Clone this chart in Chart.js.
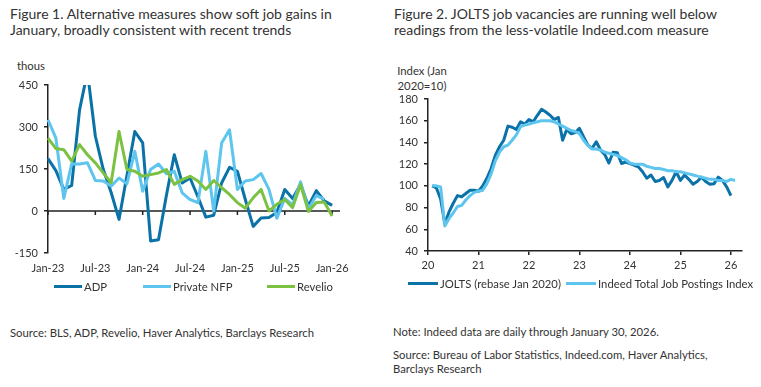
<!DOCTYPE html>
<html>
<head>
<meta charset="utf-8">
<script src="https://cdn.jsdelivr.net/npm/chart.js@4.4.1/dist/chart.umd.min.js"></script>
<style>
  body { margin: 0; width: 761px; height: 387px; background: #fff; font-family: Lato, sans-serif; color: #333; position: relative; overflow: hidden; }
  .txt { position: absolute; white-space: nowrap; font-size: 11.3px; line-height: 13px; }
  .title { position: absolute; white-space: nowrap; font-size: 14px; line-height: 16px; color: #333; }
  .swatch { position: absolute; height: 3px; width: 28px; }
  canvas { position: absolute; }
</style>
</head>
<body>

<div class="title" style="left:10px; top:6px;">Figure 1. Alternative measures show soft job gains in<br>January, broadly consistent with recent trends</div>
<div class="title" style="left:394px; top:6px;">Figure 2. JOLTS job vacancies are running well below<br>readings from the less-volatile Indeed.com measure</div>

<div class="txt" style="left:17px; top:59px;">thous</div>
<div class="txt" style="left:392px; top:63px; width:60px; text-align:center; line-height:15px;">Index (Jan<br>2020=10)</div>

<canvas id="leftChart" width="380" height="300" style="left:0; top:0;"></canvas>
<canvas id="rightChart" width="376" height="300" style="left:385px; top:0;"></canvas>

<!-- legenda kiri -->
<div class="swatch" style="left:54px; top:285px; background:#0B72A8;"></div>
<div class="txt" style="left:84px; top:280px;">ADP</div>
<div class="swatch" style="left:143px; top:285px; background:#5EC5EE;"></div>
<div class="txt" style="left:173px; top:280px;">Private NFP</div>
<div class="swatch" style="left:267px; top:285px; background:#7CC242;"></div>
<div class="txt" style="left:297px; top:280px;">Revelio</div>

<!-- legenda kanan -->
<div class="swatch" style="left:408px; top:282px; width:30px; background:#0B72A8;"></div>
<div class="txt" style="left:440px; top:277px;">JOLTS (rebase Jan 2020)</div>
<div class="swatch" style="left:566px; top:282px; width:30px; background:#5EC5EE;"></div>
<div class="txt" style="left:598px; top:277px;">Indeed Total Job Postings Index</div>

<div class="txt" style="left:10px; top:326px;">Source: BLS, ADP, Revelio, Haver Analytics, Barclays Research</div>
<div class="txt" style="left:393px; top:325px;">Note: Indeed data are daily through January 30, 2026.</div>
<div class="txt" style="left:393px; top:348px; line-height:13.5px;">Source: Bureau of Labor Statistics, Indeed.com, Haver Analytics,<br>Barclays Research</div>

<script>
// Data Figure 1 (ribu, bulanan Jan-23 .. Jan-26)
const monthLabels = ['Jan-23','Feb-23','Mar-23','Apr-23','May-23','Jun-23','Jul-23','Aug-23','Sep-23','Oct-23','Nov-23','Dec-23',
  'Jan-24','Feb-24','Mar-24','Apr-24','May-24','Jun-24','Jul-24','Aug-24','Sep-24','Oct-24','Nov-24','Dec-24',
  'Jan-25','Feb-25','Mar-25','Apr-25','May-25','Jun-25','Jul-25','Aug-25','Sep-25','Oct-25','Nov-25','Dec-25',
  'Jan-26','Feb-26'];
const adp = [187,144,77,91,361,497,267,149,66,-30,127,284,243,-107,-103,55,201,100,118,50,-22,-15,100,156,142,41,-55,-25,-23,-5,77,45,95,18,73,36,20];
const privateNfp = [326,260,45,168,168,172,109,107,89,118,97,213,71,148,168,133,142,65,41,30,213,0,243,290,77,107,112,134,77,-26,45,22,104,7,55,42];
const revelio = [260,223,219,178,237,201,172,136,101,284,148,142,124,130,136,148,95,112,124,107,77,109,83,59,30,10,47,77,0,24,41,12,95,-2,30,32,-18];
const leftTicks = [-150, 0, 150, 300, 450];

// Data Figure 2 (indeks, akhir bulan Jan 2020 ..)
const startYear = 2020;
const joltsValues = [100,98,88,65,76,84,91,90,93,96,96,95,
  100,107,116,128,136,142,155,154,152,159,157,161,
  159,165,170.5,168,165,161,163,142,152,148,149,153,
  145,137.5,134.5,140.6,133,129,121,131,130.5,120.6,122,120.6,
  119,117.5,113,107,110,104,105,107.6,99,105,113,105,
  110,106,101.5,104,108,104,101.5,102,108,105,99,91];
const indeedValues = [100,100,99,63,70,75,81,82,87,91,94,95,
  96,102,111,123,131,136,137.5,142,147,154.5,156,157,
  158,159,160,160,160,159,157,155,153,151,150,148,
  142,137,134,134,133,131,130,129,128,126,124,121,
  120,120,120,118,117,116,116,115,114,114,113,113,
  112,111,110,109,108,107,106,106,105,105,104,106,105];
const yearTicks = [2020, 2021, 2022, 2023, 2024, 2025, 2026];

const darkBlue = '#0B72A8';
const lightBlue = '#5EC5EE';
const green = '#7CC242';
const axisColor = '#222';

Chart.defaults.font.family = 'Lato, sans-serif';
Chart.defaults.font.size = 11;
Chart.defaults.color = '#333';

// garis nol dan tanda tick di sumbu x (Figure 1)
const zeroLinePlugin = {
  id: 'zeroLine',
  beforeDatasetsDraw(chart) {
    const ctx = chart.ctx;
    const x = chart.scales.x;
    const y0 = chart.scales.y.getPixelForValue(0);
    ctx.save();
    ctx.strokeStyle = axisColor;
    ctx.lineWidth = 1.5;
    ctx.beginPath();
    ctx.moveTo(chart.chartArea.left, y0);
    ctx.lineTo(chart.chartArea.right, y0);
    for (let i = 0; i < monthLabels.length; i += 6) {
      const px = x.getPixelForValue(i);
      ctx.moveTo(px, y0);
      ctx.lineTo(px, y0 + 4);
    }
    ctx.stroke();
    ctx.restore();
  }
};

function lineSet(label, data, color, order) {
  return { label: label, data: data, borderColor: color, backgroundColor: color, borderWidth: 3,
    pointRadius: 0, tension: 0, order: order, borderJoinStyle: 'round' };
}

new Chart(document.getElementById('leftChart').getContext('2d'), {
  type: 'line',
  data: {
    labels: monthLabels,
    datasets: [
      lineSet('ADP', adp, darkBlue, 3),
      lineSet('Private NFP', privateNfp, lightBlue, 2),
      lineSet('Revelio', revelio, green, 1)
    ]
  },
  options: {
    responsive: false,
    animation: false,
    layout: { padding: { top: 85, right: 40, bottom: 0, left: 0 } },
    plugins: { legend: { display: false }, tooltip: { enabled: false } },
    scales: {
      x: {
        grid: { display: false, drawTicks: false },
        border: { display: false },
        ticks: {
          autoSkip: false, maxRotation: 0, padding: 9,
          callback: (v, i) => (i % 6 === 0 && i < 37) ? monthLabels[i] : ''
        },
        afterFit: s => { s.height = 47; }
      },
      y: {
        min: -150, max: 450,
        afterBuildTicks: s => { s.ticks = leftTicks.map(v => ({ value: v })); },
        ticks: { padding: 6 },
        grid: { drawOnChartArea: false, tickLength: 4, color: axisColor, lineWidth: 1.5 },
        border: { color: axisColor, width: 1.5 },
        afterFit: s => { s.width = 48; }
      }
    }
  },
  plugins: [zeroLinePlugin]
});

const joltsPoints = joltsValues.map((v, i) => ({ x: startYear + (i + 1) / 12, y: v }));
const indeedPoints = indeedValues.map((v, i) => ({ x: startYear + (i + 1) / 12, y: v }));

new Chart(document.getElementById('rightChart').getContext('2d'), {
  type: 'line',
  data: {
    datasets: [
      lineSet('JOLTS (rebase Jan 2020)', joltsPoints, darkBlue, 2),
      lineSet('Indeed Total Job Postings Index', indeedPoints, lightBlue, 1)
    ]
  },
  options: {
    responsive: false,
    animation: false,
    layout: { padding: { top: 99, right: 19, bottom: 0, left: 0 } },
    plugins: { legend: { display: false }, tooltip: { enabled: false } },
    scales: {
      x: {
        type: 'linear', min: 2020, max: 2026.22,
        afterBuildTicks: s => { s.ticks = yearTicks.map(v => ({ value: v })); },
        ticks: { padding: 4, maxRotation: 0, callback: v => String(v - 2000) },
        grid: { drawOnChartArea: false, tickLength: 4, color: axisColor, lineWidth: 1.5 },
        border: { color: axisColor, width: 1.5 },
        afterFit: s => { s.height = 49; }
      },
      y: {
        min: 40, max: 180,
        ticks: { stepSize: 20, padding: 6 },
        grid: { drawOnChartArea: false, tickLength: 4, color: axisColor, lineWidth: 1.5 },
        border: { color: axisColor, width: 1.5 },
        afterFit: s => { s.width = 43; }
      }
    }
  }
});
</script>
</body>
</html>
